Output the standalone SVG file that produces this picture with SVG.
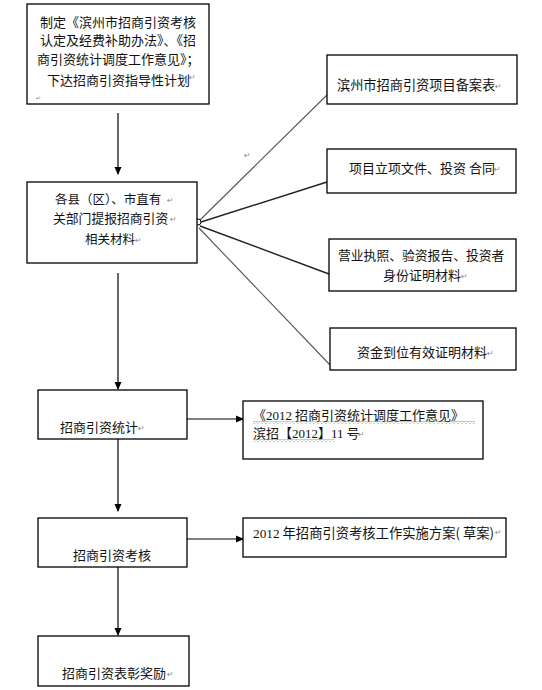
<svg xmlns="http://www.w3.org/2000/svg" width="542" height="690" viewBox="0 0 542 690">
<style>
.box{fill:#fff;stroke:#000;stroke-width:1.3}
.t{font-family:"Noto Sans CJK SC","Liberation Sans",sans-serif;font-size:13px;fill:#111}
.n{font-family:"Liberation Serif",serif}
.pm{font-family:"DejaVu Sans",sans-serif;font-size:8px;fill:#888}
.ln{stroke:#000;stroke-width:1.2;fill:none}
.fan{stroke:#555;stroke-width:1.1;fill:none}
.fan2{stroke:#222;stroke-width:1.4;fill:none}
</style>
<defs>
<marker id="ah" markerWidth="8" markerHeight="8" refX="7" refY="4" orient="auto" markerUnits="userSpaceOnUse">
<path d="M0,0.5 L8,4 L0,7.5 Z" fill="#000"/>
</marker>
<pattern id="wave" width="4" height="3" patternUnits="userSpaceOnUse">
<path d="M0,2.5 L2,0.5 L4,2.5" fill="none" stroke="#4a9a4a" stroke-width="0.8"/>
</pattern>
</defs>
<rect width="542" height="690" fill="#fff"/>

<g id="connectors">
<line class="ln" x1="118" y1="113" x2="118" y2="174" marker-end="url(#ah)"/>
<line class="ln" x1="118" y1="273" x2="118" y2="389" marker-end="url(#ah)"/>
<line class="ln" x1="118" y1="439" x2="118" y2="511" marker-end="url(#ah)"/>
<line class="ln" x1="118" y1="567" x2="118" y2="635" marker-end="url(#ah)"/>
<line class="ln" x1="187" y1="419" x2="243" y2="419" marker-end="url(#ah)"/>
<line class="ln" x1="187" y1="539" x2="243" y2="539" marker-end="url(#ah)"/>
<line class="fan" x1="200" y1="220" x2="328" y2="94"/>
<line class="fan2" x1="201" y1="222" x2="327" y2="182"/>
<line class="fan2" x1="200" y1="226" x2="329" y2="274"/>
<line class="fan" x1="199" y1="228" x2="331" y2="366"/>
<circle cx="198" cy="222" r="3" fill="#fff" stroke="#000" stroke-width="1"/>
<circle cx="330" cy="92" r="3" fill="#fff" stroke="#000" stroke-width="1"/>
<text class="pm" x="244" y="158">↵</text>
</g>

<g id="node-policy">
<rect class="box" x="27" y="4" width="182" height="100"/>
<text class="t" x="40" y="27">制定《滨州市招商引资考核</text>
<text class="t" x="40" y="45">认定及经费补助办法》、《招</text>
<text class="t" x="37" y="64">商引资统计调度工作意见》；</text>
<text class="t" x="47" y="85">下达招商引资指导性计划</text>
<text class="pm" x="189" y="80">↵</text>
<text class="pm" x="36" y="100" style="font-size:6px">↵</text>
</g>

<g id="node-report">
<rect class="box" x="27" y="182" width="170" height="81"/>
<text class="t" x="55" y="204" style="font-size:12.5px">各县（区）、市直有</text>
<text class="pm" x="167" y="203">↵</text>
<text class="t" x="53" y="223" style="font-size:12.8px">关部门提报招商引资</text>
<text class="pm" x="170" y="222">↵</text>
<text class="t" x="85" y="244" style="font-size:12.5px">相关材料</text>
<text class="pm" x="135" y="243">↵</text>
</g>

<g id="node-record">
<rect class="box" x="327" y="55" width="190" height="49"/>
<text class="t" x="337" y="90" style="font-size:13.2px">滨州市招商引资项目备案表</text>
<text class="pm" x="495" y="89">↵</text>
</g>

<g id="node-contract">
<rect class="box" x="327" y="149" width="189" height="44"/>
<text class="t" x="349" y="173">项目立项文件、投资 合同</text>
<text class="pm" x="494" y="172">↵</text>
</g>

<g id="node-license">
<rect class="box" x="329" y="239" width="187" height="52"/>
<text class="t" x="338" y="260" style="font-size:12.8px">营业执照、验资报告、投资者</text>
<text class="t" x="383" y="280">身份证明材料</text>
<text class="pm" x="461" y="279">↵</text>
</g>

<g id="node-funds">
<rect class="box" x="330" y="328" width="186" height="42"/>
<text class="t" x="357" y="357">资金到位有效证明材料</text>
<text class="pm" x="487" y="356">↵</text>
</g>

<g id="node-stats">
<rect class="box" x="38" y="390" width="149" height="49"/>
<text class="t" x="60" y="432">招商引资统计</text>
<text class="pm" x="138" y="431">↵</text>
</g>

<g id="node-stats-doc">
<rect class="box" x="243" y="401" width="240" height="58"/>
<text class="t" x="253" y="420">《<tspan class="n">2012</tspan> 招商引资统计调度工作意见》</text>
<rect x="253" y="421" width="222" height="3" fill="url(#wave)"/>
<text class="t" x="253" y="438">滨招【<tspan class="n">2012</tspan>】<tspan class="n">11</tspan> 号</text>
<rect x="253" y="439" width="82" height="3" fill="url(#wave)"/>
<text class="pm" x="358" y="437">↵</text>
</g>

<g id="node-assess">
<rect class="box" x="38" y="518" width="149" height="49"/>
<text class="t" x="73" y="560">招商引资考核</text>
</g>

<g id="node-assess-doc">
<rect class="box" x="243" y="518" width="263" height="39"/>
<text class="t" x="253" y="538" style="font-size:13.3px"><tspan class="n">2012</tspan> 年招商引资考核工作实施方案( 草案)</text>
<text class="pm" x="495" y="535">↵</text>
</g>

<g id="node-reward">
<rect class="box" x="38" y="636" width="151" height="50"/>
<text class="t" x="62" y="678">招商引资表彰奖励</text>
<text class="pm" x="167" y="677">↵</text>
</g>
</svg>
